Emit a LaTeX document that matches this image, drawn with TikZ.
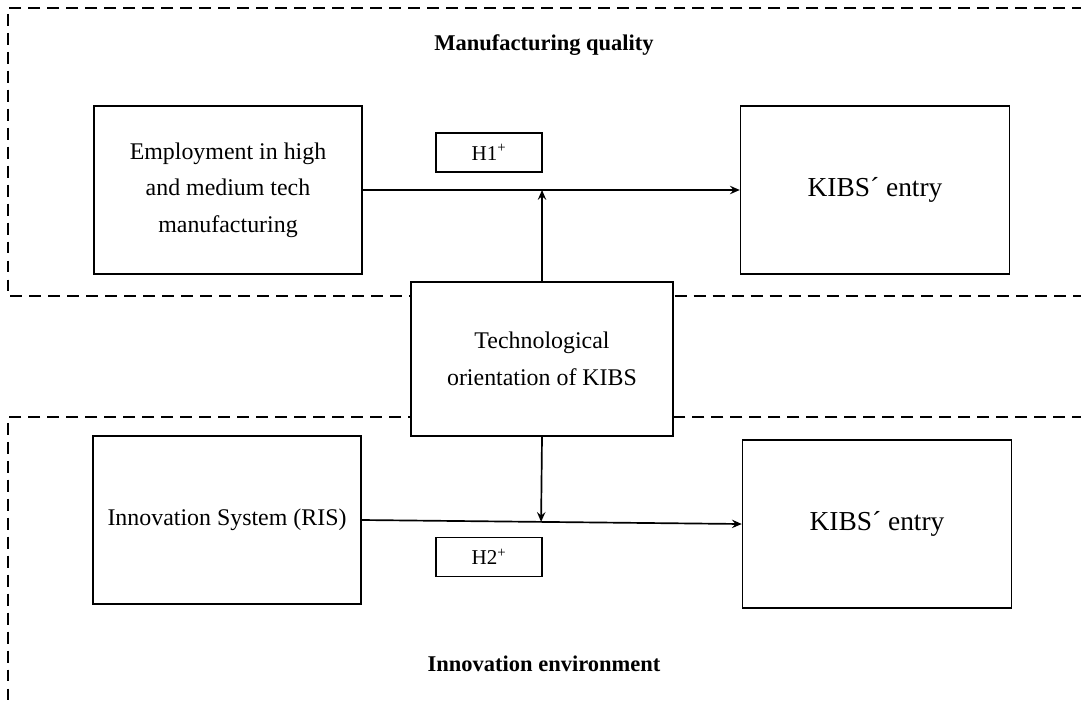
\documentclass[tikz,border=0pt]{standalone}
\usepackage{fontspec}
\setmainfont{Liberation Serif}
\usetikzlibrary{positioning}
\usetikzlibrary{arrows.meta,calc}

\begin{document}
\begin{tikzpicture}[
auto,
node distance = 0.4cm,
>={Stealth[length=7pt,width=6pt,inset=2.5pt]},
box/.style={rectangle, draw, line width=1.1pt, fill=white, minimum width=6.7cm, minimum height=4.2cm, align=center, font=\fontsize{17}{26}\selectfont},
entry/.style={box, minimum width=6.725cm, font=\fontsize{19.5}{24}\selectfont},
hyp/.style={rectangle, draw, line width=0.9pt, fill=white, minimum width=2.65cm, minimum height=0.975cm, font=\fontsize{15}{18}\selectfont},
frame/.style={dash pattern=on 8.5pt off 5pt, line width=0.9pt},
title/.style={font=\bfseries\fontsize{16}{20}\selectfont},
link/.style={->, line width=1.2pt}]
\useasboundingbox (0,0) rectangle (27.025,-17.6);

% dashed areas, open to the right
\draw [frame] (27.1,-0.2) -| (0.2,-7.4) -- (27.1,-7.4);
\draw [frame] (27.1,-10.425) -| (0.2,-17.7);
\node [title] (mq) at (13.6,-1.125) {Manufacturing quality};
\node [title] (ie) at (13.6,-16.6) {Innovation environment};

\node [box] (emp) at (5.7,-4.75) {Employment in high\\and medium tech\\manufacturing};
\node [entry] (kibsA) [right=9.425cm of emp] {KIBS´ entry};
\node [hyp] (h1) at (12.225,-3.81) {H1\textsuperscript{+}};

\node [box, minimum width=6.55cm, minimum height=3.85cm] (tech) at (13.55,-8.975) {Technological\\orientation of KIBS};

\node [box] (ris) at (5.675,-13.0) {Innovation System (RIS)};
\node [entry] (kibsB) [right=9.5cm of ris, yshift=-0.1cm] {KIBS´ entry};
\node [hyp] (h2) at (12.225,-13.925) {H2\textsuperscript{+}};

% effects and moderation
\draw [link] (emp.east) -- (kibsA.west);
\coordinate (jA) at (tech.north |- emp.east);
\draw [link] (tech.north) -- (jA);
\draw [link] (ris.east) -- (kibsB.west);
\coordinate (jB) at ($(ris.east)!(tech.south)!(kibsB.west)$);
\draw [link] (tech.south) -- (jB);
\end{tikzpicture}
\end{document}
